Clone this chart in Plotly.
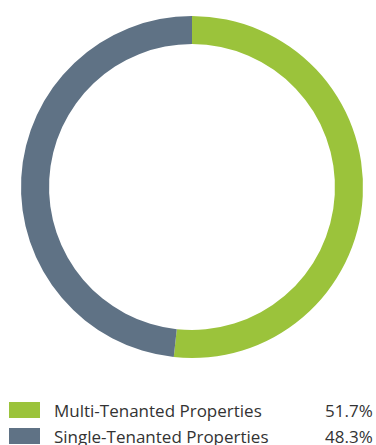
import plotly.graph_objects as go

labels = ["Multi-Tenanted Properties", "Single-Tenanted Properties"]
shares = [51.7, 48.3]
colors = ["#9BC33B", "#5F7285"]

W, H = 376, 445

fig = go.Figure()
fig.add_trace(go.Pie(
    labels=labels,
    values=shares,
    hole=0.836,
    sort=False,
    direction="clockwise",
    rotation=0,
    marker=dict(colors=colors, line=dict(width=0)),
    textinfo="none",
    hoverinfo="label+percent",
    showlegend=False,
    domain=dict(x=[21 / W, 363 / W], y=[1 - 358 / H, 1 - 16 / H]),
))

# Legend rows: colour swatch, label and share
row_y = [410, 436]
for i, (lab, val, col) in enumerate(zip(labels, shares, colors)):
    yc = row_y[i]
    fig.add_shape(type="rect", xref="paper", yref="paper",
                  x0=9 / W, x1=40 / W, y0=1 - (yc + 8) / H, y1=1 - (yc - 8) / H,
                  fillcolor=col, line=dict(width=0))
    fig.add_annotation(x=52 / W, y=1 - yc / H, xref="paper", yref="paper",
                       text=lab, showarrow=False, xanchor="left", yanchor="middle",
                       font=dict(family="Open Sans", size=17, color="#333333"))
    fig.add_annotation(x=375 / W, y=1 - yc / H, xref="paper", yref="paper",
                       text=f"{val:.1f}%", showarrow=False, xanchor="right", yanchor="middle",
                       font=dict(family="Open Sans", size=17, color="#333333"))

fig.update_layout(
    width=W, height=H,
    margin=dict(l=0, r=0, t=0, b=0),
    paper_bgcolor="white",
    plot_bgcolor="white",
)

fig.write_html("out.html")
